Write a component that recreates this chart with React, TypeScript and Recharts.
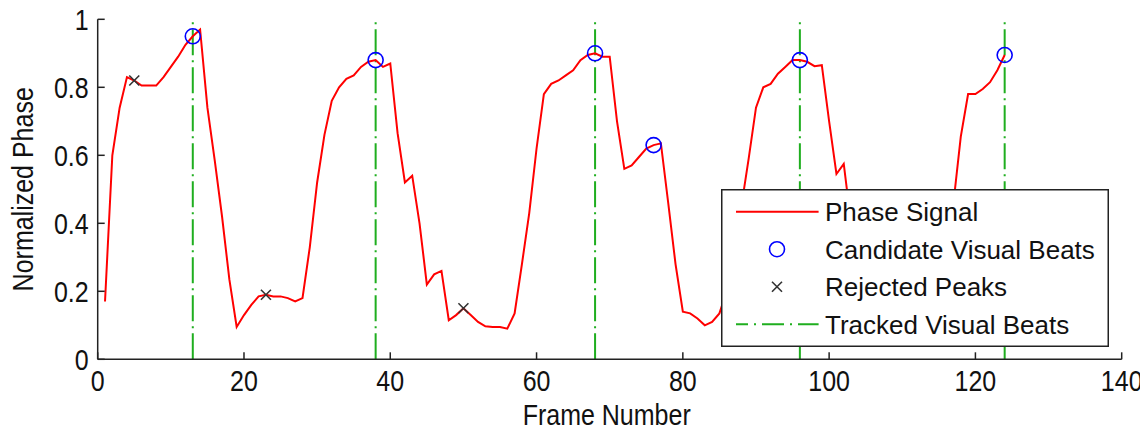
import React from 'react';
import { ComposedChart, Line, Scatter, XAxis, YAxis, ReferenceLine, Legend, Label } from 'recharts';

// phase value per frame, frames start at 1
const phaseSignal = [
  0.17, 0.6, 0.74, 0.83, 0.82, 0.805, 0.805, 0.805, 0.83, 0.86,
  0.89, 0.925, 0.95, 0.97, 0.74, 0.585, 0.42, 0.235, 0.095, 0.13,
  0.16, 0.185, 0.19, 0.185, 0.185, 0.18, 0.17, 0.18, 0.33, 0.52,
  0.66, 0.76, 0.8, 0.825, 0.835, 0.86, 0.875, 0.88, 0.86, 0.87,
  0.665, 0.52, 0.54, 0.4, 0.22, 0.25, 0.26, 0.115, 0.13, 0.15,
  0.13, 0.11, 0.097, 0.095, 0.095, 0.09, 0.135, 0.28, 0.43, 0.62,
  0.78, 0.81, 0.82, 0.835, 0.85, 0.88, 0.895, 0.9, 0.89, 0.89,
  0.7, 0.56, 0.57, 0.595, 0.62, 0.63, 0.635, 0.46, 0.28, 0.14,
  0.135, 0.12, 0.1, 0.11, 0.135, 0.2, 0.32, 0.45, 0.59, 0.74,
  0.8, 0.81, 0.84, 0.86, 0.88, 0.88, 0.875, 0.862, 0.865, 0.7,
  0.545, 0.575, 0.4, 0.28, 0.18, 0.13, 0.12, 0.11, 0.1, 0.1,
  0.1, 0.11, 0.12, 0.15, 0.24, 0.35, 0.46, 0.655, 0.78, 0.78,
  0.795, 0.815, 0.85, 0.895,
];

const candidateFrames = [13, 38, 68, 76, 96, 124];
const candidatePhase = [0.95, 0.88, 0.9, 0.63, 0.88, 0.895];

const rejectedFrames = [5, 23, 50];
const rejectedPhase = [0.82, 0.19, 0.15];

const trackedBeats = [13, 38, 68, 96, 124];

const xTicks = [0, 20, 40, 60, 80, 100, 120, 140];
const yTicks = [0, 0.2, 0.4, 0.6, 0.8, 1];

const legendLabels = ['Phase Signal', 'Candidate Visual Beats', 'Rejected Peaks', 'Tracked Visual Beats'];

const RED = '#ff0000';
const BLUE = '#0000ff';
const GREEN = '#1fae1f';
const DARK = '#222222';
const FONT = "'Liberation Sans', Arial, sans-serif";
const AXIS_SIZE = 25;
const STRETCH = 1.18; // matlab text is a bit taller than arial

const signalRows = phaseSignal.map((phase, i) => ({ frame: i + 1, phase }));
const candidateRows = candidateFrames.map((frame, i) => ({ frame, value: candidatePhase[i] }));
const rejectedRows = rejectedFrames.map((frame, i) => ({ frame, value: rejectedPhase[i] }));

const CircleMark = (props: any) => (
  <circle cx={props.cx} cy={props.cy} r={7.5} fill="none" stroke={BLUE} strokeWidth={1.6} />
);

const CrossMark = (props: any) => {
  const { cx, cy } = props;
  const s = 5;
  return (
    <path
      d={`M${cx - s},${cy - s}L${cx + s},${cy + s}M${cx - s},${cy + s}L${cx + s},${cy - s}`}
      stroke="#333"
      strokeWidth={1.6}
      fill="none"
    />
  );
};

const XTick = (props: any) => (
  <text
    transform={`translate(${props.x},${props.y}) scale(1,${STRETCH})`}
    textAnchor="middle"
    dy="0.72em"
    fontSize={AXIS_SIZE}
    fontFamily={FONT}
    fill="#111"
  >
    {props.payload.value}
  </text>
);

const YTick = (props: any) => (
  <text
    transform={`translate(${props.x},${props.y}) scale(1,${STRETCH})`}
    textAnchor="end"
    dy="0.36em"
    fontSize={AXIS_SIZE}
    fontFamily={FONT}
    fill="#111"
  >
    {String(props.payload.value)}
  </text>
);

const LegendBox = () => {
  const rowY = (i: number) => 22.7 + 37.5 * i;
  return (
    <svg width={388} height={158} style={{ display: 'block' }}>
      <rect x={0.75} y={0.75} width={386.5} height={156.5} fill="#fff" stroke={DARK} strokeWidth={1.5} />
      <line x1={15} x2={97.6} y1={rowY(0)} y2={rowY(0)} stroke={RED} strokeWidth={2} />
      <CircleMark cx={56} cy={rowY(1)} />
      <CrossMark cx={56} cy={rowY(2)} />
      <line
        x1={15}
        x2={97.6}
        y1={rowY(3)}
        y2={rowY(3)}
        stroke={GREEN}
        strokeWidth={2}
        strokeDasharray="22 6 2 6"
        strokeDashoffset={10}
      />
      {legendLabels.map((label, i) => (
        <text key={label} x={104} y={rowY(i) + 9.5} fontSize={26} fontFamily={FONT} fill="#111">
          {label}
        </text>
      ))}
    </svg>
  );
};

export default function App() {
  return (
    <div style={{ width: 1140, height: 423 }}>
      <ComposedChart
        width={1140}
        height={423}
        data={signalRows}
        margin={{ top: 11.3, right: 26.3, bottom: 0, left: 9.7 }}
      >
        <XAxis
          dataKey="frame"
          type="number"
          domain={[0, 140]}
          ticks={xTicks}
          allowDataOverflow
          height={71.7}
          tickSize={-7}
          tickMargin={17.7}
          tick={<XTick />}
          stroke={DARK}
          strokeWidth={1.5}
        >
          <Label
            content={({ viewBox }: any) => {
              const cx = viewBox.x + viewBox.width / 2 - 3;
              const by = viewBox.y + 65.7;
              return (
                <text
                  transform={`translate(${cx},${by}) scale(1,${STRETCH})`}
                  textAnchor="middle"
                  fontSize={AXIS_SIZE}
                  fontFamily={FONT}
                  fill="#111"
                >
                  Frame Number
                </text>
              );
            }}
          />
        </XAxis>
        <XAxis
          xAxisId="top"
          orientation="top"
          type="number"
          domain={[0, 140]}
          ticks={xTicks}
          height={0}
          tickSize={-7}
          tick={false}
          stroke={DARK}
          strokeWidth={1.5}
        />
        <YAxis
          type="number"
          domain={[0, 1]}
          ticks={yTicks}
          width={80}
          tickSize={-7}
          tickMargin={16}
          tick={<YTick />}
          stroke={DARK}
          strokeWidth={1.5}
        >
          <Label
            content={({ viewBox }: any) => {
              const cy = viewBox.y + viewBox.height / 2;
              return (
                <text
                  transform={`translate(25,${cy}) rotate(-90) scale(1,${STRETCH})`}
                  textAnchor="middle"
                  fontSize={AXIS_SIZE}
                  fontFamily={FONT}
                  fill="#111"
                >
                  Normalized Phase
                </text>
              );
            }}
          />
        </YAxis>
        <YAxis
          yAxisId="right"
          orientation="right"
          type="number"
          domain={[0, 1]}
          ticks={yTicks}
          width={0}
          tickSize={-7}
          tick={false}
          stroke={DARK}
          strokeWidth={1.5}
        />
        {trackedBeats.map((beat) => (
          <ReferenceLine
            key={beat}
            x={beat}
            stroke={GREEN}
            strokeWidth={2}
            strokeDasharray="26 5 2 5"
          />
        ))}
        <Line
          dataKey="phase"
          type="linear"
          stroke={RED}
          strokeWidth={2}
          dot={false}
          isAnimationActive={false}
        />
        <Scatter data={candidateRows} dataKey="value" shape={CircleMark} isAnimationActive={false} />
        <Scatter data={rejectedRows} dataKey="value" shape={CrossMark} isAnimationActive={false} />
        <Legend
          layout="horizontal"
          verticalAlign="middle"
          align="center"
          content={() => <LegendBox />}
          wrapperStyle={{ left: 712.7, top: 181.3, width: 388, height: 158 }}
        />
      </ComposedChart>
    </div>
  );
}
